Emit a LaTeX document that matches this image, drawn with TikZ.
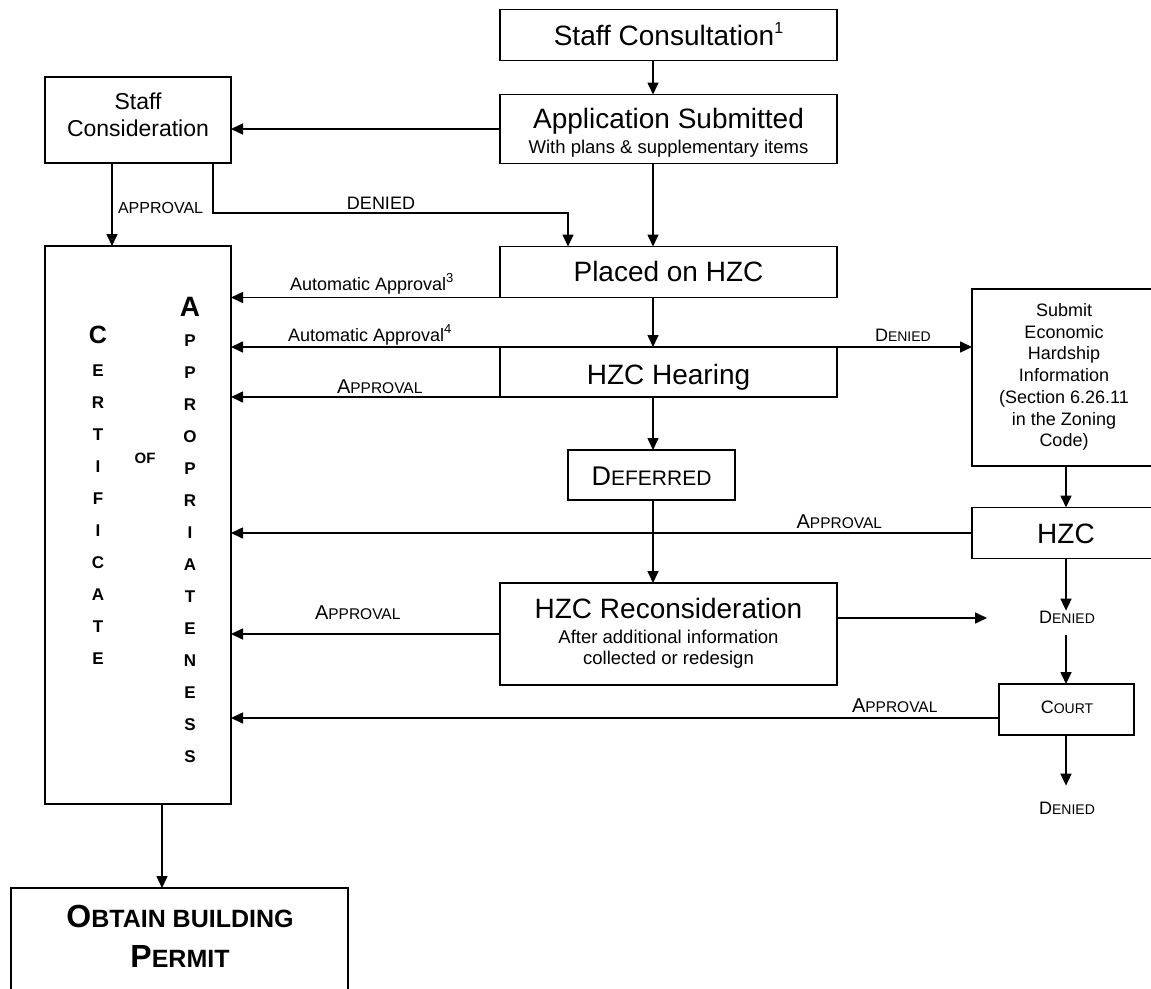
\documentclass[tikz,border=0pt]{standalone}
\usepackage{fontspec}
\setmainfont{Liberation Sans}
\usetikzlibrary{arrows.meta}
\newcommand\fz[2]{\fontsize{#1}{#2}\selectfont}
\newcommand\fsc[4]{{\fz{#1}{#1}#3\fz{#2}{#2}#4}}
\newcommand\sups[2]{\raisebox{0.42em}{\fz{#1}{#1}#2}}
\begin{document}
\begin{tikzpicture}[x=1pt,y=-1pt,
  box/.style={draw, line width=1.6pt, inner sep=0pt, outer sep=0pt},
  conn/.style={line width=1.6pt, -{Triangle[length=12pt,width=11pt]}},
  txt/.style={inner sep=0pt, outer sep=0pt, anchor=base},
  ltr/.style={inner sep=0pt, outer sep=0pt, anchor=base, font=\bfseries\fz{17}{17}}]
\useasboundingbox (0,0) rectangle (1151,988);

% boxes
\node[box, minimum width=337pt, minimum height=51pt] (sc) at (668.5,35) {};
\node[txt] (sct) at (668.5,45) {\fz{28}{30}Staff Consultation\sups{16}{1}};
\node[box, minimum width=337pt, minimum height=69pt] (app) at (668.5,129) {};
\node[txt] (appt) at (668.5,128) {\fz{28}{30}Application Submitted};
\node[txt] (apps) at (668.5,153) {\fz{18.5}{20}With plans \& supplementary items};
\node[box, minimum width=186pt, minimum height=86pt] (scon) at (138,120) {};
\node[inner sep=0pt, align=center, font=\fz{23}{27}] (scont) at (138,115) {Staff\\Consideration};
\node[box, minimum width=186pt, minimum height=558pt] (cert) at (138,525) {};
\node[box, minimum width=337pt, minimum height=51pt] (placed) at (668.5,272) {};
\node[txt] (placedt) at (668.5,281) {\fz{28}{30}Placed on HZC};
\node[box, minimum width=337pt, minimum height=50pt] (hear) at (668.5,372) {};
\node[txt] (heart) at (668.5,384) {\fz{28}{30}HZC Hearing};
\node[box, minimum width=167pt, minimum height=50pt] (def) at (651.5,475) {};
\node[txt] (deft) at (651.5,485) {\fsc{27}{21}{D}{EFERRED}};
\node[box, minimum width=337pt, minimum height=102pt] (recon) at (668.5,634) {};
\node[txt] (recont) at (668.5,618) {\fz{28}{30}HZC Reconsideration};
\node[txt] (recons1) at (668.5,643) {\fz{18.5}{20}After additional information};
\node[txt] (recons2) at (668.5,664) {\fz{18.5}{20}collected or redesign};
\node[box, minimum width=188pt, minimum height=177pt] (sub) at (1066,377.5) {};
\node[inner sep=0pt, align=center, font=\fz{18}{21.7}] (subt) at (1064,377) {Submit\\Economic\\Hardship\\Information\\(Section 6.26.11\\in the Zoning\\Code)};
\node[box, minimum width=188pt, minimum height=51pt] (hzc) at (1066,533) {};
\node[txt] (hzct) at (1066,543) {\fz{28}{30}HZC};
\node[txt] (dn1) at (1067,623) {\fsc{18}{14}{D}{ENIED}};
\node[box, minimum width=135pt, minimum height=51pt] (court) at (1066.5,709.5) {};
\node[txt] (courtt) at (1067,713) {\fsc{18}{14}{C}{OURT}};
\node[txt] (dn2) at (1067,814) {\fsc{18}{14}{D}{ENIED}};
\node[box, minimum width=337pt, minimum height=112pt] (permit) at (179.5,944) {};
\node[txt, font=\bfseries] (permt1) at (180,927) {\fsc{32}{25}{O}{BTAIN BUILDING}};
\node[txt, font=\bfseries] (permt2) at (180,967) {\fsc{32}{25}{P}{ERMIT}};

% certificate of appropriateness letters
\node[ltr, font=\bfseries\fz{25}{25}] (cC) at (98,343) {C};
\foreach \l [count=\i] in {E,R,T,I,F,I,C,A,T,E}
  \node[ltr] (ce\i) at (98,{376+32*(\i-1)}) {\l};
\node[ltr, font=\bfseries\fz{28}{28}] (aA) at (190,316) {A};
\foreach \l [count=\i] in {P,P,R,O,P,R,I,A,T,E,N,E,S,S}
  \node[ltr] (ap\i) at (190,{346+32*(\i-1)}) {\l};
\node[ltr, font=\bfseries\fz{15}{15}] (of) at (145,463) {OF};

% coordinates
\coordinate (mX) at (653,0);
\coordinate (aX) at (112,0);
\coordinate (dL) at (213,213);
\coordinate (dR) at (568,213);
\coordinate (bX) at (162,0);
\coordinate (dtip) at (987,618);

% connectors
\draw[conn] (sc.south -| mX) -- (app.north -| mX);
\draw[conn] (app.west) -- (app.west -| scon.east);
\draw[conn] (scon.south -| aX) -- (cert.north -| aX);
\node[txt, anchor=base west] (lap1) at (118,213) {\fz{16}{16}APPROVAL};
\draw[conn] (scon.south -| dL) -- (dL) -- (dR) -- (placed.north -| dR);
\node[txt] (lden1) at (381,209) {\fz{18}{18}DENIED};
\draw[conn] (app.south -| mX) -- (placed.north -| mX);
\draw[conn] (placed.south west) -- (placed.south west -| cert.east);
\node[txt, anchor=base west] (laa3) at (290,290) {\fz{18}{18}Automatic Approval\sups{13}{3}};
\draw[conn] (placed.south -| mX) -- (hear.north -| mX);
\draw[conn] (hear.north west) -- (hear.north west -| cert.east);
\node[txt, anchor=base west] (laa4) at (288,341) {\fz{18}{18}Automatic Approval\sups{13}{4}};
\draw[conn] (hear.south west) -- (hear.south west -| cert.east);
\node[txt, anchor=base west] (lap2) at (337,393) {\fsc{20}{15.5}{A}{PPROVAL}};
\draw[conn] (hear.north east) -- (hear.north east -| sub.west);
\node[txt, anchor=base west] (lden2) at (875,341) {\fsc{18}{14}{D}{ENIED}};
\draw[conn] (hear.south -| mX) -- (def.north -| mX);
\draw[conn] (def.south -| mX) -- (recon.north -| mX);
\draw[conn] (sub.south) -- (hzc.north);
\draw[conn] (hzc.west) -- (hzc.west -| cert.east);
\node[txt, anchor=base east] (lap3) at (882,528) {\fsc{20}{15.5}{A}{PPROVAL}};
\draw[conn] (hzc.south) -- (hzc.south |- dn1.north);
\draw[conn] (recon.west) -- (recon.west -| cert.east);
\node[txt, anchor=base west] (lap4) at (315,619) {\fsc{20}{15.5}{A}{PPROVAL}};
\draw[conn] ([yshift=16pt]recon.east) -- ([yshift=16pt]recon.east -| dtip);
\draw[conn] ([yshift=-12pt]dn1.south -| hzc.south) -- (court.north -| hzc.south);
\draw[conn] ([yshift=17pt]court.south west) -- ([yshift=17pt]court.south west -| cert.east);
\node[txt, anchor=base west] (lap5) at (852,712) {\fsc{20}{15.5}{A}{PPROVAL}};
\draw[conn] (court.south -| hzc.south) -- ([yshift=16pt]dn2.north -| hzc.south);
\draw[conn] (cert.south -| bX) -- (permit.north -| bX);
\end{tikzpicture}
\end{document}
